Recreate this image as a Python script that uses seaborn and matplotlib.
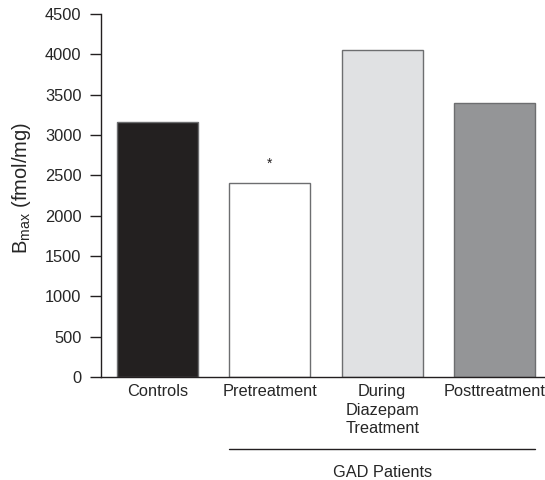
import matplotlib
matplotlib.use("Agg")
import matplotlib.pyplot as plt
import matplotlib.transforms as mtransforms
import seaborn as sns

groups = ["Controls", "Pretreatment", "During\nDiazepam\nTreatment", "Posttreatment"]
bmax = [3160, 2400, 4050, 3400]
bar_colors = ["#231f20", "#ffffff", "#e0e1e3", "#939598"]
yticks = [0, 500, 1000, 1500, 2000, 2500, 3000, 3500, 4000, 4500]

sns.set_style("white")
plt.rcParams["font.family"] = ["Liberation Sans", "DejaVu Sans"]

fig = plt.figure(figsize=(5.45, 4.8), dpi=100)
ax = fig.add_axes([0.185, 0.2146, 0.815, 0.7563])

sns.barplot(x=groups, y=bmax, hue=groups, palette=bar_colors, legend=False,
            width=0.72, edgecolor="#6d6e70", linewidth=1.0, ax=ax)

ax.set_xlim(-0.503, 3.448)
ax.set_ylim(0, 4500)
ax.set_yticks(yticks)
ax.set_ylabel(r"$\mathregular{B_{max}}$ (fmol/mg)", fontsize=14.5, labelpad=6)
ax.yaxis.set_label_coords(-0.152, 0.52)
ax.set_xlabel("")

for s in ["top", "right"]:
    ax.spines[s].set_visible(False)
for s in ["left", "bottom"]:
    ax.spines[s].set_color("#231f20")
    ax.spines[s].set_linewidth(1.0)

ax.tick_params(axis="y", direction="out", length=8, width=1.0, color="#231f20",
               pad=6, labelsize=11.8, left=True)
ax.tick_params(axis="x", length=0, pad=5, labelsize=11.8)
for lbl in ax.get_xticklabels():
    lbl.set_linespacing(1.3)

# significance marker
ax.text(1, bmax[1] + 150, "*", ha="center", va="bottom", fontsize=10, color="#231f20")

# group bracket under the patient bars
trans = mtransforms.blended_transform_factory(ax.transData, ax.transAxes)
ax.plot([0.64, 3.36], [-0.198, -0.198], color="#231f20", lw=1.0,
        transform=trans, clip_on=False)
ax.text(2.0, -0.262, "GAD Patients", ha="center", va="center", fontsize=11.8,
        transform=trans)

fig.savefig("out.png", dpi=100)
